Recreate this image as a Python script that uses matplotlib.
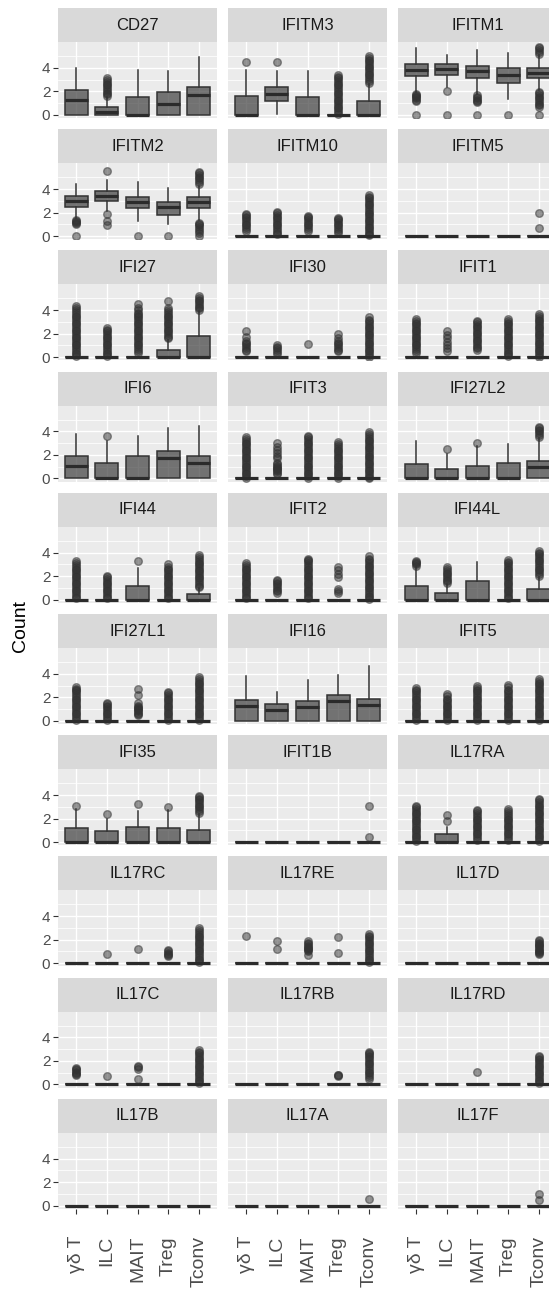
import matplotlib
matplotlib.use("Agg")
import matplotlib.pyplot as plt

plt.rcParams['font.family'] = ['Liberation Sans', 'DejaVu Sans']

cells = ["γδ T", "ILC", "MAIT", "Treg", "Tconv"]

# each cell type: (whisker low, q1, median, q3, whisker high, outliers)
CD27 = [
    (0, 0, 1.3, 2.1, 4.0, []),
    (0, 0, 0.25, 0.7, 1.5, [1.6, 1.75, 1.9, 2.05, 2.2, 2.35, 2.5, 2.65, 2.8,
                            2.95, 3.1]),
    (0, 0, 0, 1.55, 3.8, []),
    (0, 0, 0.95, 1.95, 3.7, []),
    (0, 0, 1.65, 2.35, 4.9, []),
]
IFITM3 = [
    (0, 0, 0, 1.6, 3.8, [4.5]),
    (0.1, 1.15, 1.8, 2.4, 3.75, [4.5]),
    (0, 0, 0, 1.5, 3.7, []),
    (0, 0, 0, 0, 0, [0.1, 0.25, 0.4, 0.55, 0.7, 0.85, 1.0, 1.15, 1.3, 1.45,
                     1.6, 1.75, 1.9, 2.05, 2.2, 2.35, 2.5, 2.65, 2.8, 2.95,
                     3.1, 3.2, 3.35]),
    (0, 0, 0, 1.15, 2.6, [2.75, 2.9, 3.05, 3.2, 3.35, 3.5, 3.65, 3.8, 3.95,
                          4.1, 4.25, 4.4, 4.55, 4.7, 4.85, 5.0]),
]
IFITM1 = [
    (1.95, 3.3, 3.8, 4.3, 5.7, [0, 1.2, 1.3, 1.4, 1.5, 1.6, 1.7, 1.8]),
    (2.4, 3.35, 3.9, 4.3, 5.1, [0, 2.0]),
    (1.8, 3.1, 3.7, 4.15, 5.5, [0, 1.1, 1.2, 1.3, 1.4, 1.5, 1.65]),
    (1.35, 2.75, 3.35, 3.95, 5.3, [0]),
    (2.1, 3.1, 3.6, 4.0, 5.1, [0, 0.65, 0.8, 0.95, 1.1, 1.25, 1.4, 1.55, 1.7,
                               1.85, 1.95, 5.2, 5.35, 5.5, 5.65, 5.8]),
]
IFITM2 = [
    (1.55, 2.5, 3.0, 3.4, 4.45, [0, 1.0, 1.1, 1.2, 1.3, 1.4]),
    (2.15, 3.0, 3.4, 3.8, 4.75, [5.5, 1.9, 1.3, 0.9]),
    (1.3, 2.4, 2.9, 3.3, 4.6, [0]),
    (1.0, 1.8, 2.5, 2.9, 4.1, [0]),
    (1.4, 2.4, 2.9, 3.3, 4.3, [4.45, 4.6, 4.75, 4.9, 5.05, 5.2, 5.35, 5.45,
                               0, 0.3, 0.45, 0.6, 0.75, 0.9, 1.05, 1.15]),
]
IFITM10 = [
    (0, 0, 0, 0, 0, [0.45, 0.6, 0.75, 0.9, 1.05, 1.2, 1.35, 1.5, 1.65, 1.75,
                     1.85]),
    (0, 0, 0, 0, 0, [0.15, 0.3, 0.45, 0.6, 0.75, 0.9, 1.05, 1.2, 1.35, 1.5,
                     1.65, 1.8, 1.95, 2.05]),
    (0, 0, 0, 0, 0, [0.45, 0.6, 0.75, 0.9, 1.05, 1.2, 1.35, 1.5, 1.6, 1.7]),
    (0, 0, 0, 0, 0, [0.3, 0.45, 0.6, 0.75, 0.9, 1.05, 1.2, 1.35, 1.45, 1.55]),
    (0, 0, 0, 0, 0, [0.05, 0.2, 0.35, 0.5, 0.65, 0.8, 0.95, 1.1, 1.25, 1.4,
                     1.55, 1.7, 1.85, 2.0, 2.15, 2.3, 2.45, 2.6, 2.75, 2.9,
                     3.05, 3.2, 3.35, 3.5]),
]
IFITM5 = [
    (0, 0, 0, 0, 0, []),
    (0, 0, 0, 0, 0, []),
    (0, 0, 0, 0, 0, []),
    (0, 0, 0, 0, 0, []),
    (0, 0, 0, 0, 0, [0.67, 1.95]),
]
IFI27 = [
    (0, 0, 0, 0, 0, [0.1, 0.25, 0.4, 0.55, 0.7, 0.85, 1.0, 1.15, 1.3, 1.45,
                     1.6, 1.75, 1.9, 2.05, 2.2, 2.35, 2.5, 2.65, 2.8, 2.95,
                     3.1, 3.25, 3.4, 3.55, 3.7, 3.85, 4.0, 4.15, 4.35]),
    (0, 0, 0, 0, 0, [0.1, 0.25, 0.4, 0.55, 0.7, 0.85, 1.0, 1.15, 1.3, 1.45,
                     1.6, 1.75, 1.9, 2.05, 2.2, 2.35, 2.5]),
    (0, 0, 0, 0, 0, [0.4, 0.55, 0.7, 0.85, 1.0, 1.15, 1.3, 1.45, 1.6, 1.75,
                     1.9, 2.05, 2.2, 2.35, 2.5, 2.65, 2.8, 2.95, 3.1, 3.25,
                     3.4, 3.55, 3.7, 3.8, 4.0, 4.2, 4.5]),
    (0, 0, 0, 0.6, 1.5, [1.6, 1.75, 1.9, 2.05, 2.2, 2.35, 2.5, 2.65, 2.8,
                         2.95, 3.1, 3.25, 3.4, 3.55, 3.7, 3.85, 4.0, 4.2,
                         4.8]),
    (0, 0, 0, 1.77, 3.9, [4.0, 4.15, 4.3, 4.45, 4.6, 4.75, 4.9, 5.05, 5.2]),
]
IFI30 = [
    (0, 0, 0, 0, 0, [0.5, 0.65, 0.8, 0.95, 1.1, 1.25, 1.4, 1.7, 2.2]),
    (0, 0, 0, 0, 0, [0.3, 0.45, 0.6, 0.75, 0.9, 1.05]),
    (0, 0, 0, 0, 0, [1.1]),
    (0, 0, 0, 0, 0, [0.5, 0.65, 0.8, 0.95, 1.1, 1.25, 1.4, 1.6, 2.0]),
    (0, 0, 0, 0, 0, [0.05, 0.2, 0.35, 0.5, 0.65, 0.8, 0.95, 1.1, 1.25, 1.4,
                     1.55, 1.7, 1.85, 2.0, 2.15, 2.3, 2.45, 2.6, 2.75, 2.9,
                     3.05, 3.2, 3.4]),
]
IFIT1 = [
    (0, 0, 0, 0, 0, [0.4, 0.55, 0.7, 0.85, 1.0, 1.15, 1.3, 1.45, 1.6, 1.75,
                     1.9, 2.05, 2.2, 2.35, 2.5, 2.65, 2.8, 2.95, 3.1, 3.27]),
    (0, 0, 0, 0, 0, [0.5, 0.75, 1.0, 1.3, 1.6, 1.9, 2.2]),
    (0, 0, 0, 0, 0, [0.6, 0.75, 0.9, 1.05, 1.2, 1.35, 1.5, 1.65, 1.8, 1.95,
                     2.1, 2.25, 2.4, 2.55, 2.7, 2.85, 3.0, 3.1]),
    (0, 0, 0, 0, 0, [0.1, 0.25, 0.4, 0.55, 0.7, 0.85, 1.0, 1.15, 1.3, 1.45,
                     1.6, 1.75, 1.9, 2.05, 2.2, 2.35, 2.5, 2.65, 2.8, 2.95,
                     3.1, 3.27]),
    (0, 0, 0, 0, 0, [0.05, 0.2, 0.35, 0.5, 0.65, 0.8, 0.95, 1.1, 1.25, 1.4,
                     1.55, 1.7, 1.85, 2.0, 2.15, 2.3, 2.45, 2.6, 2.75, 2.9,
                     3.05, 3.2, 3.35, 3.5, 3.7]),
]
IFI6 = [
    (0, 0, 1.05, 1.95, 3.75, []),
    (0, 0, 0, 1.3, 3.2, [3.6]),
    (0, 0, 0, 1.95, 3.65, []),
    (0, 0, 1.75, 2.3, 4.3, []),
    (0, 0, 1.3, 1.95, 4.45, []),
]
IFIT3 = [
    (0, 0, 0, 0, 0, [0.05, 0.2, 0.35, 0.5, 0.65, 0.8, 0.95, 1.1, 1.25, 1.4,
                     1.55, 1.7, 1.85, 2.0, 2.15, 2.3, 2.45, 2.6, 2.75, 2.9,
                     3.05, 3.2, 3.35, 3.55]),
    (0, 0, 0, 0, 0, [0.4, 0.5, 0.6, 0.7, 0.8, 0.9, 1.0, 1.1, 1.2, 1.35,
                     1.7, 1.95, 2.2, 2.45, 2.7, 3.05]),
    (0, 0, 0, 0, 0, [0.05, 0.2, 0.35, 0.5, 0.65, 0.8, 0.95, 1.1, 1.25, 1.4,
                     1.55, 1.7, 1.85, 2.0, 2.15, 2.3, 2.45, 2.6, 2.75, 2.9,
                     3.05, 3.2, 3.35, 3.5, 3.65]),
    (0, 0, 0, 0, 0, [0.05, 0.2, 0.35, 0.5, 0.65, 0.8, 0.95, 1.1, 1.25, 1.4,
                     1.55, 1.7, 1.85, 2.0, 2.15, 2.3, 2.45, 2.6, 2.75, 2.9,
                     3.1]),
    (0, 0, 0, 0, 0, [0.0, 0.15, 0.3, 0.45, 0.6, 0.75, 0.9, 1.05, 1.2, 1.35,
                     1.5, 1.65, 1.8, 1.95, 2.1, 2.25, 2.4, 2.55, 2.7, 2.85,
                     3.0, 3.15, 3.3, 3.45, 3.6, 3.75, 3.95]),
]
IFI27L2 = [
    (0, 0, 0, 1.2, 3.2, []),
    (0, 0, 0, 0.83, 2.1, [2.5]),
    (0, 0, 0, 1.1, 2.8, [3.05]),
    (0, 0, 0, 1.3, 2.9, []),
    (0, 0, 0.97, 1.47, 3.4, [3.55, 3.7, 3.85, 4.0, 4.15, 4.3, 4.4]),
]
IFI44 = [
    (0, 0, 0, 0, 0, [0.1, 0.25, 0.4, 0.55, 0.7, 0.85, 1.0, 1.15, 1.3, 1.45,
                     1.6, 1.75, 1.9, 2.05, 2.2, 2.35, 2.5, 2.65, 2.8, 2.95,
                     3.1, 3.27]),
    (0, 0, 0, 0, 0, [0.1, 0.25, 0.4, 0.55, 0.7, 0.85, 1.0, 1.15, 1.3, 1.45,
                     1.6, 1.75, 1.9, 2.05]),
    (0, 0, 0, 1.2, 2.7, [3.27]),
    (0, 0, 0, 0, 0, [0.1, 0.25, 0.4, 0.55, 0.7, 0.85, 1.0, 1.15, 1.3, 1.45,
                     1.6, 1.75, 1.9, 2.05, 2.2, 2.35, 2.5, 2.65, 2.8, 3.0]),
    (0, 0, 0, 0.48, 1.0, [1.05, 1.2, 1.35, 1.5, 1.65, 1.8, 1.95, 2.1, 2.25,
                          2.4, 2.55, 2.7, 2.85, 3.0, 3.15, 3.3, 3.45, 3.6,
                          3.8]),
]
IFIT2 = [
    (0, 0, 0, 0, 0, [0.1, 0.25, 0.4, 0.55, 0.7, 0.85, 1.0, 1.15, 1.3, 1.45,
                     1.6, 1.75, 1.9, 2.05, 2.2, 2.35, 2.5, 2.65, 2.8, 2.95,
                     3.13]),
    (0, 0, 0, 0, 0, [0.55, 0.7, 0.85, 1.0, 1.15, 1.3, 1.45, 1.6, 1.7]),
    (0, 0, 0, 0, 0, [0.1, 0.25, 0.4, 0.55, 0.7, 0.85, 1.0, 1.15, 1.3, 1.45,
                     1.6, 1.75, 1.9, 2.05, 2.2, 2.35, 2.5, 2.65, 2.8, 2.95,
                     3.1, 3.25, 3.4, 3.5]),
    (0, 0, 0, 0, 0, [0.55, 0.7, 0.9, 1.9, 2.2, 2.5, 2.8]),
    (0, 0, 0, 0, 0, [0.05, 0.2, 0.35, 0.5, 0.65, 0.8, 0.95, 1.1, 1.25, 1.4,
                     1.55, 1.7, 1.85, 2.0, 2.15, 2.3, 2.45, 2.6, 2.75, 2.9,
                     3.05, 3.2, 3.35, 3.5, 3.7]),
]
IFI44L = [
    (0, 0, 0, 1.2, 2.74, [2.9, 3.0, 3.1, 3.2, 3.27]),
    (0, 0, 0, 0.6, 1.3, [1.4, 1.55, 1.7, 1.85, 2.0, 2.15, 2.3, 2.45, 2.6,
                         2.74]),
    (0, 0, 0, 1.62, 3.2, []),
    (0, 0, 0, 0, 0, [0.1, 0.25, 0.4, 0.55, 0.7, 0.85, 1.0, 1.15, 1.3, 1.45,
                     1.6, 1.75, 1.9, 2.05, 2.2, 2.35, 2.5, 2.65, 2.8, 2.95,
                     3.1, 3.2, 3.35]),
    (0, 0, 0, 0.9, 1.95, [2.05, 2.2, 2.35, 2.5, 2.65, 2.8, 2.95, 3.1, 3.25,
                          3.4, 3.55, 3.7, 3.85, 4.0, 4.1]),
]
IFI27L1 = [
    (0, 0, 0, 0, 0, [0.1, 0.25, 0.4, 0.55, 0.7, 0.85, 1.0, 1.15, 1.3, 1.45,
                     1.6, 1.75, 1.9, 2.05, 2.2, 2.35, 2.5, 2.6, 2.75, 2.9]),
    (0, 0, 0, 0, 0, [0.1, 0.25, 0.4, 0.55, 0.7, 0.85, 1.0, 1.15, 1.3, 1.4,
                     1.5]),
    (0, 0, 0, 0, 0, [0.5, 0.6, 0.7, 0.8, 0.9, 1.0, 1.1, 1.2, 1.3, 1.5, 2.2,
                     2.75]),
    (0, 0, 0, 0, 0, [0.1, 0.25, 0.4, 0.55, 0.7, 0.85, 1.0, 1.15, 1.3, 1.45,
                     1.6, 1.75, 1.9, 2.05, 2.2, 2.35, 2.47]),
    (0, 0, 0, 0, 0, [0.1, 0.25, 0.4, 0.55, 0.7, 0.85, 1.0, 1.15, 1.3, 1.45,
                     1.6, 1.75, 1.9, 2.05, 2.2, 2.35, 2.5, 2.65, 2.8, 2.95,
                     3.1, 3.25, 3.4, 3.55, 3.7]),
]
IFI16 = [
    (0, 0, 1.22, 1.77, 3.8, []),
    (0, 0, 0.95, 1.45, 2.47, []),
    (0, 0, 1.17, 1.7, 3.5, []),
    (0, 0, 1.65, 2.2, 3.9, []),
    (0, 0, 1.36, 1.83, 4.7, []),
]
IFIT5 = [
    (0, 0, 0, 0, 0, [0.1, 0.25, 0.4, 0.55, 0.7, 0.85, 1.0, 1.15, 1.3, 1.45,
                     1.6, 1.75, 1.9, 2.05, 2.2, 2.35, 2.5, 2.65, 2.83]),
    (0, 0, 0, 0, 0, [0.1, 0.25, 0.4, 0.55, 0.7, 0.85, 1.0, 1.15, 1.3, 1.45,
                     1.6, 1.75, 1.9, 2.1, 2.28]),
    (0, 0, 0, 0, 0, [0.1, 0.25, 0.4, 0.55, 0.7, 0.85, 1.0, 1.15, 1.3, 1.45,
                     1.6, 1.75, 1.9, 2.05, 2.2, 2.35, 2.5, 2.65, 2.8, 3.0]),
    (0, 0, 0, 0, 0, [0.1, 0.25, 0.4, 0.55, 0.7, 0.85, 1.0, 1.15, 1.3, 1.45,
                     1.6, 1.75, 1.9, 2.05, 2.2, 2.35, 2.5, 2.65, 2.85, 3.08]),
    (0, 0, 0, 0, 0, [0.1, 0.25, 0.4, 0.55, 0.7, 0.85, 1.0, 1.15, 1.3, 1.45,
                     1.6, 1.75, 1.9, 2.05, 2.2, 2.35, 2.5, 2.65, 2.8, 2.95,
                     3.1, 3.25, 3.4, 3.6]),
]
IFI35 = [
    (0, 0, 0, 1.18, 2.84, [3.1]),
    (0, 0, 0, 0.9, 2.0, [2.35]),
    (0, 0, 0, 1.27, 2.65, [3.2]),
    (0, 0, 0, 1.18, 2.7, [3.0]),
    (0, 0, 0, 1.05, 2.4, [2.5, 2.65, 2.8, 2.95, 3.1, 3.25, 3.4, 3.55, 3.7,
                          3.85, 3.95]),
]
IFIT1B = [
    (0, 0, 0, 0, 0, []),
    (0, 0, 0, 0, 0, []),
    (0, 0, 0, 0, 0, []),
    (0, 0, 0, 0, 0, []),
    (0, 0, 0, 0, 0, [0.4, 3.1]),
]
IL17RA = [
    (0, 0, 0, 0, 0, [0.1, 0.25, 0.4, 0.55, 0.7, 0.85, 1.0, 1.15, 1.3, 1.45,
                     1.6, 1.75, 1.9, 2.05, 2.2, 2.35, 2.5, 2.65, 2.8, 2.95,
                     3.1]),
    (0, 0, 0, 0.7, 1.3, [1.8, 2.3]),
    (0, 0, 0, 0, 0, [0.2, 0.35, 0.5, 0.65, 0.8, 0.95, 1.1, 1.25, 1.4, 1.55,
                     1.7, 1.85, 2.0, 2.15, 2.3, 2.45, 2.6, 2.75]),
    (0, 0, 0, 0, 0, [0.2, 0.35, 0.5, 0.65, 0.8, 0.95, 1.1, 1.25, 1.4, 1.55,
                     1.7, 1.85, 2.0, 2.15, 2.3, 2.45, 2.65, 2.85]),
    (0, 0, 0, 0, 0, [0.1, 0.25, 0.4, 0.55, 0.7, 0.85, 1.0, 1.15, 1.3, 1.45,
                     1.6, 1.75, 1.9, 2.05, 2.2, 2.35, 2.5, 2.65, 2.8, 2.95,
                     3.1, 3.25, 3.4, 3.55, 3.7]),
]
IL17RC = [
    (0, 0, 0, 0, 0, []),
    (0, 0, 0, 0, 0, [0.75]),
    (0, 0, 0, 0, 0, [1.25]),
    (0, 0, 0, 0, 0, [0.6, 0.7, 0.8, 0.9, 1.0, 1.1]),
    (0, 0, 0, 0, 0, [0.1, 0.25, 0.4, 0.55, 0.7, 0.85, 1.0, 1.15, 1.3, 1.45,
                     1.6, 1.75, 1.9, 2.05, 2.2, 2.35, 2.5, 2.65, 2.8, 3.0]),
]
IL17RE = [
    (0, 0, 0, 0, 0, [2.3]),
    (0, 0, 0, 0, 0, [1.2, 1.9]),
    (0, 0, 0, 0, 0, [0.7, 1.0, 1.1, 1.2, 1.3, 1.4, 1.5, 1.6, 1.7, 1.85]),
    (0, 0, 0, 0, 0, [0.9, 2.25]),
    (0, 0, 0, 0, 0, [0.1, 0.25, 0.4, 0.55, 0.7, 0.85, 1.0, 1.15, 1.3, 1.45,
                     1.6, 1.75, 1.9, 2.05, 2.2, 2.35, 2.45]),
]
IL17D = [
    (0, 0, 0, 0, 0, []),
    (0, 0, 0, 0, 0, []),
    (0, 0, 0, 0, 0, []),
    (0, 0, 0, 0, 0, []),
    (0, 0, 0, 0, 0, [0.75, 0.85, 0.95, 1.05, 1.15, 1.25, 1.35, 1.45, 1.55,
                     1.65, 1.75, 1.85, 1.95]),
]
IL17C = [
    (0, 0, 0, 0, 0, [0.8, 0.9, 1.0, 1.1, 1.2, 1.3, 1.4]),
    (0, 0, 0, 0, 0, [0.75]),
    (0, 0, 0, 0, 0, [0.45, 1.35, 1.45, 1.55]),
    (0, 0, 0, 0, 0, []),
    (0, 0, 0, 0, 0, [0.1, 0.25, 0.4, 0.55, 0.7, 0.85, 1.0, 1.15, 1.3, 1.45,
                     1.6, 1.75, 1.9, 2.05, 2.2, 2.35, 2.5, 2.65, 2.8, 2.9]),
]
IL17RB = [
    (0, 0, 0, 0, 0, []),
    (0, 0, 0, 0, 0, []),
    (0, 0, 0, 0, 0, []),
    (0, 0, 0, 0, 0, [0.72, 0.78, 0.82]),
    (0, 0, 0, 0, 0, [0.5, 0.65, 0.8, 0.95, 1.1, 1.25, 1.4, 1.55, 1.7, 1.85,
                     2.0, 2.15, 2.3, 2.45, 2.6, 2.7, 2.8]),
]
IL17RD = [
    (0, 0, 0, 0, 0, []),
    (0, 0, 0, 0, 0, []),
    (0, 0, 0, 0, 0, [1.1]),
    (0, 0, 0, 0, 0, []),
    (0, 0, 0, 0, 0, [0.1, 0.25, 0.4, 0.55, 0.7, 0.85, 1.0, 1.15, 1.3, 1.45,
                     1.6, 1.75, 1.9, 2.05, 2.2, 2.35, 2.45]),
]
IL17B = [
    (0, 0, 0, 0, 0, []),
    (0, 0, 0, 0, 0, []),
    (0, 0, 0, 0, 0, []),
    (0, 0, 0, 0, 0, []),
    (0, 0, 0, 0, 0, []),
]
IL17A = [
    (0, 0, 0, 0, 0, []),
    (0, 0, 0, 0, 0, []),
    (0, 0, 0, 0, 0, []),
    (0, 0, 0, 0, 0, []),
    (0, 0, 0, 0, 0, [0.6]),
]
IL17F = [
    (0, 0, 0, 0, 0, []),
    (0, 0, 0, 0, 0, []),
    (0, 0, 0, 0, 0, []),
    (0, 0, 0, 0, 0, []),
    (0, 0, 0, 0, 0, [0.5, 0.95]),
]

panels = [
    ("CD27", CD27), ("IFITM3", IFITM3), ("IFITM1", IFITM1),
    ("IFITM2", IFITM2), ("IFITM10", IFITM10), ("IFITM5", IFITM5),
    ("IFI27", IFI27), ("IFI30", IFI30), ("IFIT1", IFIT1),
    ("IFI6", IFI6), ("IFIT3", IFIT3), ("IFI27L2", IFI27L2),
    ("IFI44", IFI44), ("IFIT2", IFIT2), ("IFI44L", IFI44L),
    ("IFI27L1", IFI27L1), ("IFI16", IFI16), ("IFIT5", IFIT5),
    ("IFI35", IFI35), ("IFIT1B", IFIT1B), ("IL17RA", IL17RA),
    ("IL17RC", IL17RC), ("IL17RE", IL17RE), ("IL17D", IL17D),
    ("IL17C", IL17C), ("IL17RB", IL17RB), ("IL17RD", IL17RD),
    ("IL17B", IL17B), ("IL17A", IL17A), ("IL17F", IL17F),
]

W, H = 549, 1295
fig = plt.figure(figsize=(W / 100, H / 100), dpi=100)

col_left = [58, 228, 398]
panel_w = 159
row_pitch = 121.2
strip_h = 34
panel_h = 76


def px_axes(x, y, w, h):
    return fig.add_axes([x / W, 1 - (y + h) / H, w / W, h / H])


for i, (gene, data) in enumerate(panels):
    r, c = divmod(i, 3)
    top = 8 + r * row_pitch
    # facet strip
    sax = px_axes(col_left[c], top, panel_w, strip_h)
    sax.set_facecolor("#D9D9D9")
    sax.set_xticks([])
    sax.set_yticks([])
    for s in sax.spines.values():
        s.set_visible(False)
    sax.text(0.5, 0.5, gene, ha="center", va="center", fontsize=12,
             color="#1A1A1A", transform=sax.transAxes)

    ax = px_axes(col_left[c], top + strip_h, panel_w, panel_h)
    ax.set_facecolor("#EBEBEB")
    for s in ax.spines.values():
        s.set_visible(False)
    ax.set_axisbelow(True)
    for yv in [1, 3, 5]:
        ax.axhline(yv, color="white", lw=0.55, zorder=0)
    ax.grid(True, color="white", lw=1.0)

    stats = []
    for lo, q1, med, q3, hi, fl in data:
        stats.append(dict(whislo=lo, q1=q1, med=med, q3=q3, whishi=hi,
                          fliers=fl))
    ax.bxp(stats, positions=range(1, 6), widths=0.75, patch_artist=True,
           showcaps=False,
           boxprops=dict(facecolor=(0.2, 0.2, 0.2, 0.66),
                         edgecolor="#333333", lw=1.1),
           medianprops=dict(color="#2b2b2b", lw=2.3),
           whiskerprops=dict(color="#333333", lw=1.1),
           flierprops=dict(marker="o", markersize=5.5,
                           markerfacecolor="#333333",
                           markeredgecolor="#333333", alpha=0.5))

    ax.set_xlim(0.4, 5.6)
    ax.set_ylim(-0.27, 6.2)
    ax.set_yticks([0, 2, 4])
    ax.set_xticks(range(1, 6))
    ax.tick_params(colors="#333333", labelcolor="#4D4D4D", length=3.5,
                   width=0.8, pad=2)
    if c == 0:
        ax.set_yticklabels(["0", "2", "4"], fontsize=11)
    else:
        ax.tick_params(axis="y", length=0, labelleft=False)
    if r == 9:
        ax.set_xticklabels(cells, rotation=90, fontsize=14, va="top",
                           ha="center")
        ax.tick_params(axis="x", pad=16)
    else:
        ax.tick_params(axis="x", length=0, labelbottom=False)

fig.text(21 / W, 1 - 626 / H, "Count", rotation=90, ha="center",
         va="center", fontsize=14, color="black")

fig.savefig("out.png", dpi=100)
